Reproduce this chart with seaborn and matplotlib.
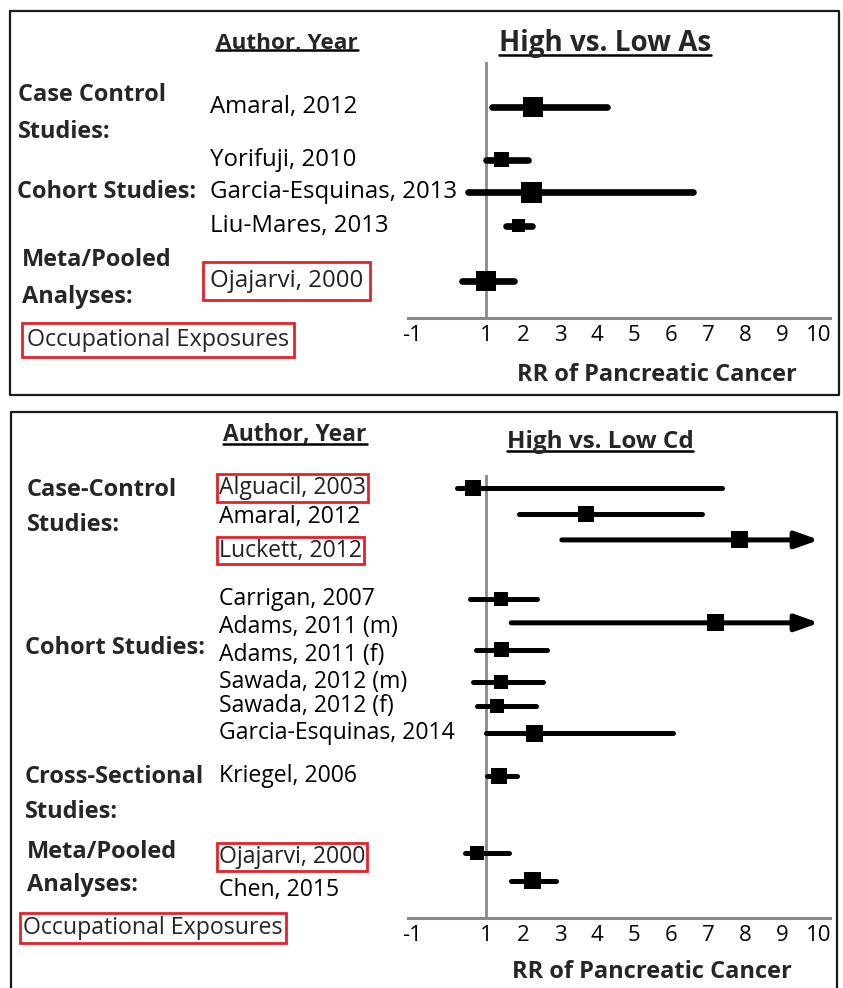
import matplotlib
matplotlib.use('Agg')
import matplotlib.pyplot as plt
import matplotlib.transforms as mtransforms
from matplotlib.lines import Line2D
import pandas as pd
import seaborn as sns

# ---- data: arsenic panel ----
as_authors = ['Amaral, 2012', 'Yorifuji, 2010', 'Garcia-Esquinas, 2013',
              'Liu-Mares, 2013', 'Ojajarvi, 2000']
as_rr = [2.27, 1.43, 2.22, 1.89, 1.00]
as_lo = [1.16, 1.00, 0.51, 1.54, 0.35]
as_hi = [4.27, 2.14, 6.59, 2.24, 1.76]
as_occupational = [False, False, False, False, True]

# ---- data: cadmium panel ----
cd_authors = ['Alguacil, 2003', 'Amaral, 2012', 'Luckett, 2012', 'Carrigan, 2007',
              'Adams, 2011 (m)', 'Adams, 2011 (f)', 'Sawada, 2012 (m)',
              'Sawada, 2012 (f)', 'Garcia-Esquinas, 2014', 'Kriegel, 2006',
              'Ojajarvi, 2000', 'Chen, 2015']
cd_rr = [0.65, 3.70, 7.86, 1.41, 7.19, 1.41, 1.41, 1.30, 2.32, 1.35, 0.76, 2.27]
cd_lo = [0.22, 1.89, 3.05, 0.57, 1.68, 0.73, 0.65, 0.76, 1.00, 1.03, 0.43, 1.68]
cd_hi = [7.38, 6.84, 10.0, 2.38, 10.0, 2.65, 2.54, 2.35, 6.05, 1.84, 1.62, 2.89]
cd_truncated = [False, False, True, False, True, False, False, False, False,
                False, False, False]
cd_occupational = [True, False, True, False, False, False, False, False, False,
                   False, True, False]

x_ticks = [-1, 1, 2, 3, 4, 5, 6, 7, 8, 9, 10]

# ---- layout ----
as_rows = [0, 1.6, 2.58, 3.6, 5.27]
as_sizes = [20, 15, 21, 13, 20]          # square side, px
cd_rows = [0, 0.98, 1.96, 4.19, 5.09, 6.11, 7.32, 8.23, 9.25, 10.87, 13.77, 14.83]
cd_sizes = [16, 16, 17, 14, 17, 15, 14, 14, 17, 16, 14, 17]
cd_label_shift = [0, 0.1, 0.4, 0, 0.15, 0.2, 0, 0, 0, 0, 0.15, 0.35]

W, H = 843, 988
RED = '#e8202a'
GREY = '#8a8a8a'

sns.set_theme(style='white')
plt.rcParams['font.family'] = ['Open Sans', 'DejaVu Sans']

fig = plt.figure(figsize=(W / 100, H / 100), dpi=100)


def fx(x):
    return x / W


def fy(y):
    return 1 - y / H


def forest(top, bottom, ylim, df, lw, fs):
    # x scale: value v sits at 449 + 37 v px
    ax = fig.add_axes([fx(408.3), fy(bottom), (830.1 - 408.3) / W, (bottom - top) / H])
    ax.patch.set_alpha(0)
    ax.axvline(1, color=GREY, lw=2.0, zorder=1)
    plain = df[~df['arrow']]
    ax.hlines(plain['row'], plain['lo'], plain['hi'], colors='black', lw=lw,
              capstyle='round', zorder=3, clip_on=False)
    for _, r in df[df['arrow']].iterrows():
        ax.annotate('', xy=(r['hi'], r['row']), xytext=(r['lo'], r['row']),
                    arrowprops=dict(arrowstyle='-|>,head_length=1.4,head_width=0.5',
                                    lw=lw, color='black', shrinkA=0, shrinkB=0,
                                    mutation_scale=10, capstyle='round'),
                    zorder=3)
    sns.scatterplot(data=df, x='rr', y='row', marker='s', s=(df['size'] * 0.72) ** 2,
                    color='black', linewidth=0, legend=False, zorder=4, ax=ax,
                    clip_on=False)
    ax.set_xlim(-1.1, 10.3)
    ax.set_ylim(*ylim)
    ax.set_xticks(x_ticks)
    ax.set_xticklabels([str(t) for t in x_ticks])
    ax.set_yticks([])
    ax.set_xlabel('')
    ax.set_ylabel('')
    for s in ['left', 'top', 'right']:
        ax.spines[s].set_visible(False)
    ax.spines['bottom'].set_color(GREY)
    ax.spines['bottom'].set_linewidth(2.2)
    ax.tick_params(axis='x', length=0, pad=5, labelsize=fs, colors='black')
    return ax


as_df = pd.DataFrame({'author': as_authors, 'rr': as_rr, 'lo': as_lo, 'hi': as_hi,
                      'row': as_rows, 'size': as_sizes,
                      'arrow': [False] * len(as_authors)})
cd_df = pd.DataFrame({'author': cd_authors, 'rr': cd_rr, 'lo': cd_lo, 'hi': cd_hi,
                      'row': cd_rows, 'size': cd_sizes, 'arrow': cd_truncated})

ax1 = forest(62, 318, (6.39, -1.36), as_df, 4.8, 16)
ax2 = forest(475, 918, (16.23, -0.49), cd_df, 3.6, 16)

# author labels
tr1 = mtransforms.blended_transform_factory(fig.transFigure, ax1.transData)
for name, row, occ in zip(as_authors, as_rows, as_occupational):
    box = dict(boxstyle='square,pad=0.3', fc='none', ec=RED, lw=2) if occ else None
    fig.text(fx(210), row, name, transform=tr1, fontsize=17.3, va='center',
             color='#222222' if occ else 'black', bbox=box)

tr2 = mtransforms.blended_transform_factory(fig.transFigure, ax2.transData)
for name, row, sh, occ in zip(cd_authors, cd_rows, cd_label_shift, cd_occupational):
    box = dict(boxstyle='square,pad=0.08', fc='none', ec=RED, lw=2) if occ else None
    fig.text(fx(219), row + sh, name, transform=tr2, fontsize=16.6, va='center',
             color='#222222' if occ else 'black', bbox=box)

# group headers
bold = dict(fontweight='bold', va='center', ha='left')
for txt, x, y in [('Case Control', 18, 95), ('Studies:', 18, 132),
                  ('Cohort Studies:', 17, 192), ('Meta/Pooled', 22, 260),
                  ('Analyses:', 22, 297)]:
    fig.text(fx(x), fy(y), txt, fontsize=16.9, **bold)
for txt, x, y in [('Case-Control', 27, 490), ('Studies:', 27, 525),
                  ('Cohort Studies:', 25, 648), ('Cross-Sectional', 25, 777),
                  ('Studies:', 25, 812), ('Meta/Pooled', 27, 852),
                  ('Analyses:', 27, 885)]:
    fig.text(fx(x), fy(y), txt, fontsize=17, **bold)

fig.text(fx(27), fy(340), 'Occupational Exposures', fontsize=16.8, va='center',
         bbox=dict(boxstyle='square,pad=0.22', fc='none', ec=RED, lw=2))
fig.text(fx(23), fy(928), 'Occupational Exposures', fontsize=16.7, va='center',
         bbox=dict(boxstyle='square,pad=0.15', fc='none', ec=RED, lw=2))

# column headers / titles (underlined below)
heads = [
    fig.text(fx(287), fy(43), 'Author, Year', fontsize=16.2, fontweight='bold',
             ha='center', va='center'),
    fig.text(fx(605), fy(44), 'High vs. Low As', fontsize=20, fontweight='bold',
             ha='center', va='center'),
    fig.text(fx(295), fy(435), 'Author, Year', fontsize=16.4, fontweight='bold',
             ha='center', va='center'),
    fig.text(fx(600), fy(442), 'High vs. Low Cd', fontsize=17.5, fontweight='bold',
             ha='center', va='center'),
]
fig.text(fx(657), fy(375), 'RR of Pancreatic Cancer', fontsize=17, fontweight='bold',
         ha='center', va='center')
fig.text(fx(652), fy(972), 'RR of Pancreatic Cancer', fontsize=17, fontweight='bold',
         ha='center', va='center')

# frames
frame = dict(color='#1a1a1a', lw=1.6, transform=fig.transFigure)
for xs, ys in [([10, 839, 839, 10, 10], [11, 11, 395, 395, 11]),
               ([11, 11, 837, 837], [990, 412, 412, 990])]:
    fig.add_artist(Line2D([fx(v) for v in xs], [fy(v) for v in ys], **frame))

fig.canvas.draw()
renderer = fig.canvas.get_renderer()
for t in heads:
    bb = t.get_window_extent(renderer)
    yline = bb.y0 + 3
    fig.add_artist(Line2D([bb.x0 / W, bb.x1 / W], [yline / H, yline / H],
                          color='black', lw=1.8, transform=fig.transFigure))

fig.savefig('out.png', dpi=100, facecolor='white')
